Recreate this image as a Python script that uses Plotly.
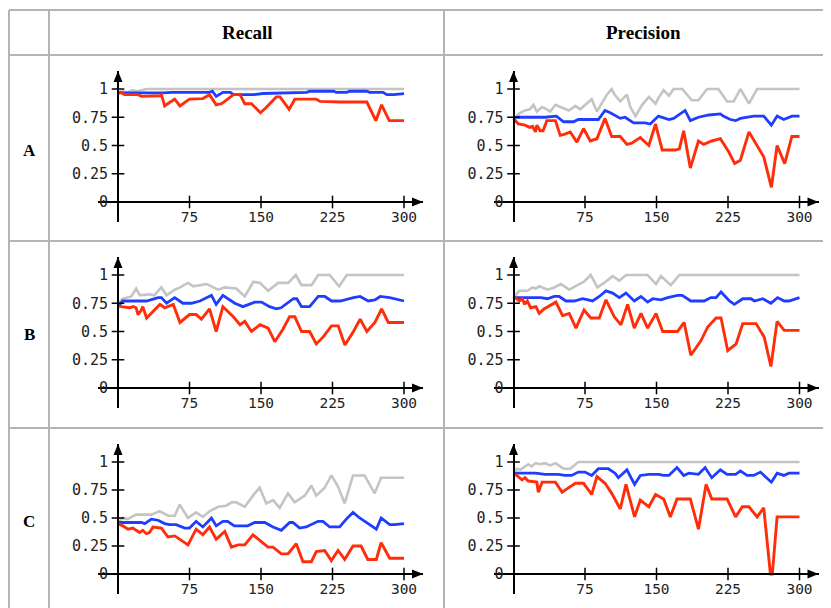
import plotly.graph_objects as go

# ---------------- data ----------------
columns = ["Recall", "Precision"]
rows = ["A", "B", "C"]
x_ticks = [75, 150, 225, 300]
y_ticks = [0, 0.25, 0.5, 0.75, 1]

# A - Recall
a_rec_gray_x = [0, 5, 10, 15, 20, 25, 30, 300]
a_rec_gray_y = [0.97, 0.98, 0.97, 0.99, 0.98, 0.99, 1.0, 1.0]
a_rec_blue_x = [0, 5, 47, 57, 96, 99, 103, 110, 118, 121, 142, 152, 198, 201, 226, 229, 240, 243, 261, 264, 278, 282, 289, 296, 300]
a_rec_blue_y = [0.97, 0.965, 0.965, 0.97, 0.97, 0.98, 0.935, 0.97, 0.97, 0.95, 0.95, 0.96, 0.97, 0.98, 0.98, 0.97, 0.97, 0.98, 0.98, 0.97, 0.97, 0.95, 0.95, 0.96, 0.96]
a_rec_red_x = [0, 3, 7, 21, 24.5, 44, 45.5, 49, 54, 59.5, 65, 70, 75, 89, 96, 103, 108.5, 112, 121, 128, 133, 140, 149.5, 156, 166, 170, 179.5, 185.5, 208, 212, 233, 261, 270.5, 276.5, 284.5, 300]
a_rec_red_y = [0.96, 0.97, 0.95, 0.95, 0.935, 0.94, 0.95, 0.85, 0.88, 0.91, 0.85, 0.88, 0.91, 0.915, 0.95, 0.86, 0.87, 0.89, 0.95, 0.95, 0.87, 0.87, 0.79, 0.84, 0.93, 0.93, 0.82, 0.91, 0.91, 0.89, 0.885, 0.885, 0.72, 0.86, 0.72, 0.72]

# A - Precision
a_pre_gray_x = [0, 2, 7, 12, 17, 21, 24.5, 30, 35, 38.5, 44, 49, 58, 65, 70, 82, 87.5, 91, 98, 103, 106, 112, 115, 119, 122.5, 128, 135, 142, 149, 152, 157.5, 163, 168, 177, 187, 194, 203, 215, 224, 231, 238, 247, 255.5, 300]
a_pre_gray_y = [0.74, 0.75, 0.79, 0.81, 0.82, 0.86, 0.80, 0.84, 0.82, 0.80, 0.86, 0.84, 0.81, 0.85, 0.82, 0.91, 0.80, 0.85, 0.95, 1.0, 0.95, 0.89, 0.92, 0.95, 0.84, 0.76, 0.86, 0.93, 0.87, 0.92, 0.99, 0.94, 1.0, 1.0, 0.90, 0.90, 1.0, 1.0, 0.89, 0.89, 1.0, 0.87, 1.0, 1.0]
a_pre_blue_x = [0, 3.5, 33, 45, 52.5, 63, 68, 89, 96, 101.5, 112, 117, 126, 138, 143.5, 152, 163, 168, 180, 185.5, 194, 205, 217, 220, 227.5, 233, 238, 252, 262.5, 270.5, 276.5, 283.5, 292, 300]
a_pre_blue_y = [0.74, 0.75, 0.75, 0.76, 0.71, 0.71, 0.73, 0.73, 0.81, 0.79, 0.74, 0.75, 0.70, 0.70, 0.69, 0.76, 0.73, 0.74, 0.81, 0.72, 0.75, 0.77, 0.78, 0.76, 0.73, 0.72, 0.74, 0.76, 0.76, 0.68, 0.76, 0.73, 0.76, 0.76]
a_pre_red_x = [0, 5, 12, 17, 20, 23, 24.5, 28, 31, 35, 44, 49, 54, 59.5, 66.5, 73.5, 80.5, 87.5, 96, 103, 112, 119, 124, 133, 142, 149, 156, 170, 174, 178.5, 185.5, 194, 199.5, 208, 217, 226, 232, 238, 247, 262.5, 270.5, 276.5, 284.5, 292, 300]
a_pre_red_y = [0.74, 0.69, 0.68, 0.66, 0.67, 0.62, 0.68, 0.63, 0.63, 0.72, 0.72, 0.59, 0.60, 0.62, 0.53, 0.65, 0.54, 0.56, 0.74, 0.58, 0.58, 0.51, 0.52, 0.57, 0.50, 0.69, 0.46, 0.46, 0.47, 0.63, 0.30, 0.54, 0.51, 0.54, 0.56, 0.44, 0.34, 0.37, 0.62, 0.40, 0.13, 0.50, 0.34, 0.58, 0.58]

# B - Recall
b_rec_gray_x = [0, 5, 14, 19, 23, 33, 38, 45.5, 51, 59.5, 65, 73.5, 79, 93, 105, 112, 124, 133, 142, 149, 157.5, 168, 178.5, 186.5, 192.5, 203, 210, 222, 232, 240, 300]
b_rec_gray_y = [0.75, 0.79, 0.81, 0.88, 0.82, 0.83, 0.82, 0.89, 0.82, 0.87, 0.89, 0.93, 0.90, 0.92, 0.87, 0.89, 0.88, 0.81, 0.94, 0.93, 0.86, 0.93, 0.93, 1.0, 0.91, 0.91, 1.0, 1.0, 0.90, 1.0, 1.0]
b_rec_blue_x = [0, 5, 30, 35, 42, 45.5, 51, 59.5, 68, 77, 86, 98, 103, 110, 122.5, 131, 138, 143.5, 150.5, 159, 166, 171, 184, 187.5, 192.5, 201, 210, 217, 224, 233, 247, 254, 262.5, 269.5, 275, 285, 300]
b_rec_blue_y = [0.72, 0.77, 0.77, 0.78, 0.80, 0.80, 0.75, 0.80, 0.75, 0.75, 0.77, 0.82, 0.74, 0.82, 0.75, 0.72, 0.74, 0.76, 0.76, 0.72, 0.70, 0.71, 0.79, 0.79, 0.72, 0.72, 0.81, 0.81, 0.77, 0.77, 0.80, 0.81, 0.77, 0.78, 0.81, 0.80, 0.77]
b_rec_red_x = [0, 3.5, 12, 16, 19, 21, 24.5, 26, 30, 35, 44, 49, 58, 65, 75, 82, 87.5, 96, 103, 110, 121, 128, 133, 140, 149, 157.5, 164.5, 173, 180, 185.5, 192.5, 201, 208, 215, 224, 231, 238, 247, 254, 261, 269.5, 276.5, 283.5, 300]
b_rec_red_y = [0.73, 0.72, 0.71, 0.72, 0.71, 0.65, 0.69, 0.72, 0.62, 0.66, 0.74, 0.71, 0.74, 0.58, 0.65, 0.65, 0.61, 0.70, 0.50, 0.72, 0.63, 0.56, 0.59, 0.50, 0.56, 0.53, 0.41, 0.52, 0.63, 0.63, 0.50, 0.50, 0.39, 0.45, 0.55, 0.55, 0.38, 0.50, 0.61, 0.50, 0.58, 0.70, 0.58, 0.58]

# B - Precision
b_pre_gray_x = [0, 6, 14.5, 20, 23.5, 27, 35.7, 42.7, 49.7, 58.5, 67, 74, 81, 88, 95, 104, 111, 118, 140.7, 149.5, 154.7, 165, 174, 300]
b_pre_gray_y = [0.80, 0.86, 0.86, 0.89, 0.88, 0.90, 0.87, 0.89, 0.92, 0.87, 0.91, 0.94, 1.0, 0.89, 0.93, 0.99, 0.95, 1.0, 1.0, 0.92, 0.99, 0.91, 1.0, 1.0]
b_pre_blue_x = [0, 28.7, 35.7, 42.7, 48, 55, 63.7, 72.5, 83, 90, 97, 104, 111, 118, 126.7, 133.7, 140.7, 146, 154.7, 161.7, 172, 177, 186, 200, 207, 212.5, 217.7, 226.5, 231.7, 240.5, 249, 252.7, 261.5, 270, 277, 284, 289, 300]
b_pre_blue_y = [0.80, 0.80, 0.79, 0.81, 0.81, 0.77, 0.77, 0.79, 0.77, 0.81, 0.86, 0.84, 0.80, 0.84, 0.77, 0.81, 0.76, 0.79, 0.78, 0.80, 0.82, 0.82, 0.77, 0.77, 0.80, 0.80, 0.85, 0.77, 0.74, 0.79, 0.79, 0.77, 0.79, 0.75, 0.80, 0.77, 0.77, 0.80]
b_pre_red_x = [0, 6, 9.5, 11.5, 14.5, 18, 23.5, 27, 32, 39, 44.5, 51.5, 58.5, 65.5, 74, 81, 90, 97, 105.7, 112.7, 119.7, 126.7, 133.7, 140.7, 149.5, 156.5, 172, 179, 186, 196.7, 203.7, 212.5, 217.7, 224.7, 233.5, 240.5, 254.5, 263, 270, 276.5, 284, 300]
b_pre_red_y = [0.81, 0.77, 0.79, 0.74, 0.77, 0.71, 0.72, 0.66, 0.70, 0.73, 0.76, 0.64, 0.66, 0.53, 0.69, 0.62, 0.62, 0.78, 0.63, 0.56, 0.74, 0.53, 0.66, 0.53, 0.66, 0.50, 0.50, 0.58, 0.29, 0.42, 0.54, 0.62, 0.62, 0.33, 0.39, 0.57, 0.57, 0.45, 0.19, 0.59, 0.51, 0.51]

# C - Recall
c_rec_gray_x = [0, 5, 10, 19, 35, 43.7, 52.5, 59.5, 64.7, 73.4, 82, 89, 96, 105, 113.6, 119, 124, 133, 143.4, 148.6, 155.6, 162.6, 169.6, 178.3, 185.3, 196, 202.8, 208, 216.8, 223.8, 230.8, 237.8, 246.5, 258.7, 269.2, 276, 300]
c_rec_gray_y = [0.46, 0.50, 0.49, 0.53, 0.53, 0.56, 0.52, 0.52, 0.62, 0.50, 0.55, 0.51, 0.56, 0.60, 0.61, 0.64, 0.64, 0.60, 0.72, 0.77, 0.63, 0.66, 0.59, 0.72, 0.64, 0.70, 0.79, 0.70, 0.77, 0.88, 0.78, 0.63, 0.88, 0.88, 0.72, 0.86, 0.86]
c_rec_blue_x = [0, 24.5, 28, 35, 42, 49, 54, 61, 70, 75, 82, 89, 98, 103, 110, 115, 122, 136, 143.4, 154, 162.6, 171.3, 180, 183.5, 190.5, 197.5, 209.8, 215, 222, 232.5, 239.5, 246.5, 253.5, 262, 271, 276, 285, 290, 300]
c_rec_blue_y = [0.46, 0.46, 0.45, 0.49, 0.48, 0.45, 0.44, 0.44, 0.41, 0.41, 0.47, 0.42, 0.50, 0.43, 0.47, 0.47, 0.43, 0.43, 0.46, 0.46, 0.42, 0.39, 0.46, 0.46, 0.41, 0.42, 0.47, 0.47, 0.42, 0.42, 0.49, 0.55, 0.50, 0.45, 0.40, 0.50, 0.44, 0.44, 0.45]
c_rec_red_x = [0, 5, 10.5, 15.7, 19, 22.7, 26, 29.7, 33, 36.7, 45.5, 52.5, 59.5, 68, 73.4, 82, 89, 96, 103, 112, 119, 126, 133, 141.6, 148.6, 157.3, 162.6, 171.3, 178.3, 187, 194, 202.8, 208, 216.8, 223.8, 230.8, 237.8, 246.5, 255, 262, 271, 276, 285, 300]
c_rec_red_y = [0.45, 0.43, 0.40, 0.41, 0.39, 0.37, 0.39, 0.36, 0.37, 0.42, 0.41, 0.33, 0.34, 0.29, 0.26, 0.40, 0.35, 0.42, 0.31, 0.38, 0.24, 0.26, 0.26, 0.35, 0.30, 0.24, 0.24, 0.18, 0.18, 0.27, 0.11, 0.11, 0.20, 0.21, 0.12, 0.21, 0.13, 0.25, 0.25, 0.13, 0.13, 0.28, 0.14, 0.14]

# C - Precision
c_pre_gray_x = [0, 3.5, 7, 12, 15.5, 19, 23, 28, 33, 38.5, 44, 47.5, 52.5, 59.5, 68, 300]
c_pre_gray_y = [0.91, 0.94, 0.93, 0.96, 0.98, 0.96, 0.99, 0.98, 0.99, 0.97, 0.99, 0.97, 0.94, 0.94, 1.0, 1.0]
c_pre_blue_x = [0, 5, 23, 33, 47, 54, 61, 68, 75, 82, 89, 99.5, 106.5, 110, 119, 127, 133, 142, 152.5, 157.5, 163, 171.5, 178.5, 184, 194, 201, 208, 217, 224, 233, 238, 245, 252, 259, 270.5, 276.5, 283.5, 289, 300]
c_pre_blue_y = [0.90, 0.90, 0.90, 0.89, 0.89, 0.88, 0.88, 0.91, 0.91, 0.88, 0.94, 0.94, 0.90, 0.86, 0.93, 0.80, 0.88, 0.89, 0.89, 0.88, 0.88, 0.95, 0.88, 0.90, 0.89, 0.95, 0.86, 0.93, 0.89, 0.89, 0.92, 0.88, 0.88, 0.91, 0.82, 0.90, 0.88, 0.90, 0.90]
c_pre_red_x = [0, 3.5, 9, 12, 15.5, 21, 24.5, 26, 28, 30, 44, 51, 56, 65, 73.5, 82, 87.5, 96, 103, 112, 118, 127, 133, 142, 149, 157.5, 164.5, 171.5, 185.5, 194, 202, 208, 224, 233, 240, 247, 255.5, 262.5, 269.5, 271.5, 276.5, 300]
c_pre_red_y = [0.89, 0.88, 0.84, 0.86, 0.83, 0.82, 0.82, 0.73, 0.78, 0.82, 0.82, 0.73, 0.76, 0.81, 0.81, 0.71, 0.87, 0.81, 0.72, 0.58, 0.80, 0.51, 0.66, 0.60, 0.71, 0.67, 0.51, 0.67, 0.67, 0.40, 0.80, 0.67, 0.67, 0.51, 0.60, 0.60, 0.51, 0.59, 0.0, 0.0, 0.51, 0.51]

panels = [
    [(a_rec_gray_x, a_rec_gray_y), (a_rec_blue_x, a_rec_blue_y), (a_rec_red_x, a_rec_red_y)],
    [(a_pre_gray_x, a_pre_gray_y), (a_pre_blue_x, a_pre_blue_y), (a_pre_red_x, a_pre_red_y)],
    [(b_rec_gray_x, b_rec_gray_y), (b_rec_blue_x, b_rec_blue_y), (b_rec_red_x, b_rec_red_y)],
    [(b_pre_gray_x, b_pre_gray_y), (b_pre_blue_x, b_pre_blue_y), (b_pre_red_x, b_pre_red_y)],
    [(c_rec_gray_x, c_rec_gray_y), (c_rec_blue_x, c_rec_blue_y), (c_rec_red_x, c_rec_red_y)],
    [(c_pre_gray_x, c_pre_gray_y), (c_pre_blue_x, c_pre_blue_y), (c_pre_red_x, c_pre_red_y)],
]

# ---------------- styling / layout ----------------
OFF = 8                       # page body margin of the html page
W, H = 831 - OFF, 608 - OFF   # figure size
series_colors = ["#c4c4c4", "#1f3dff", "#ff2d0a"]
series_widths = [2.6, 2.8, 2.9]
col_x0 = [118, 513.5]      # page pixel of x=0
px_w = 286                 # pixels for 0..300
row_y1 = [89, 275, 462]    # page pixel of y=1
row_y0 = [202, 388, 574]   # page pixel of y=0
mono = "DejaVu Sans Mono"
serif = "Liberation Serif"


def px(v):
    return (v - OFF) / W


def py(v):
    return 1 - (v - OFF) / H


fig = go.Figure()
layout = {}
shapes = []
ann = []

for i, series in enumerate(panels):
    r, c = divmod(i, 2)
    k = "" if i == 0 else str(i + 1)
    x0 = col_x0[c]
    y1p, y0p = row_y1[r], row_y0[r]
    ppy = y0p - y1p
    ux = 300.0 / px_w
    xr = [-20 * ux, 300 + 19 * ux]
    yr = [-20.0 / ppy, 1 + 18.0 / ppy]
    layout["xaxis" + k] = dict(
        domain=[px(x0 - 20), px(x0 + px_w + 19)], range=xr,
        anchor="free", position=py(y0p),
        showline=True, linecolor="black", linewidth=2, showgrid=False,
        zeroline=False, tickvals=x_ticks, ticks="", ticklabelstandoff=2,
        tickfont=dict(family=mono, size=14.5, color="#222"), fixedrange=True,
    )
    layout["yaxis" + k] = dict(
        domain=[py(y0p + 20), py(y1p - 18)], range=yr,
        anchor="free", position=px(x0),
        showline=True, linecolor="black", linewidth=2, showgrid=False,
        zeroline=False, tickvals=y_ticks, ticks="", ticklabelstandoff=6,
        tickfont=dict(family=mono, size=15, color="#222"), fixedrange=True,
    )
    xa, ya = "x" + k, "y" + k
    for (sx, sy), col, lw in zip(series, series_colors, series_widths):
        fig.add_trace(go.Scatter(x=sx, y=sy, mode="lines", xaxis=xa, yaxis=ya,
                                 line=dict(color=col, width=lw), hoverinfo="skip"))
    # crossing tick marks
    fig.add_trace(go.Scatter(x=x_ticks, y=[0] * len(x_ticks), mode="markers", xaxis=xa, yaxis=ya,
                             marker=dict(symbol="line-ns", size=9, line=dict(width=1.5, color="black")),
                             hoverinfo="skip", cliponaxis=False))
    fig.add_trace(go.Scatter(x=[0] * (len(y_ticks) - 1), y=y_ticks[1:], mode="markers", xaxis=xa, yaxis=ya,
                             marker=dict(symbol="line-ew", size=9, line=dict(width=1.5, color="black")),
                             hoverinfo="skip", cliponaxis=False))
    # arrow heads
    shapes.append(dict(type="path", xref=xa, yref=ya, xsizemode="pixel", ysizemode="pixel",
                       xanchor=0, yanchor=yr[1], path="M -4.5 -11 L 4.5 -11 L 0 0 Z",
                       fillcolor="black", line=dict(width=0)))
    shapes.append(dict(type="path", xref=xa, yref=ya, xsizemode="pixel", ysizemode="pixel",
                       xanchor=xr[1], yanchor=0, path="M -11 -4.5 L -11 4.5 L 0 0 Z",
                       fillcolor="black", line=dict(width=0)))

# table grid
grid = dict(color="#b4b4b4", width=2)
for xv in [9, 49, 444]:
    shapes.append(dict(type="line", xref="paper", yref="paper", x0=px(xv), x1=px(xv),
                       y0=py(10), y1=0, line=grid))
for yv in [10, 55, 241, 428]:
    shapes.append(dict(type="line", xref="paper", yref="paper", x0=px(9), x1=1,
                       y0=py(yv), y1=py(yv), line=grid))

for name, xc in zip(columns, [248, 643]):
    ann.append(dict(text="<b>%s</b>" % name, x=px(xc), y=py(32), xref="paper", yref="paper",
                    xanchor="center", yanchor="middle",
                    showarrow=False, font=dict(family=serif, size=19, color="black")))
for name, yc in zip(rows, [150, 334, 521]):
    ann.append(dict(text="<b>%s</b>" % name, x=px(29), y=py(yc), xref="paper", yref="paper",
                    xanchor="center", yanchor="middle",
                    showarrow=False, font=dict(family=serif, size=17, color="black")))

fig.update_layout(
    width=W, height=H, margin=dict(l=0, r=0, t=0, b=0),
    paper_bgcolor="white", plot_bgcolor="white", showlegend=False,
    shapes=shapes, annotations=ann, **layout,
)
fig.write_html("out.html")
